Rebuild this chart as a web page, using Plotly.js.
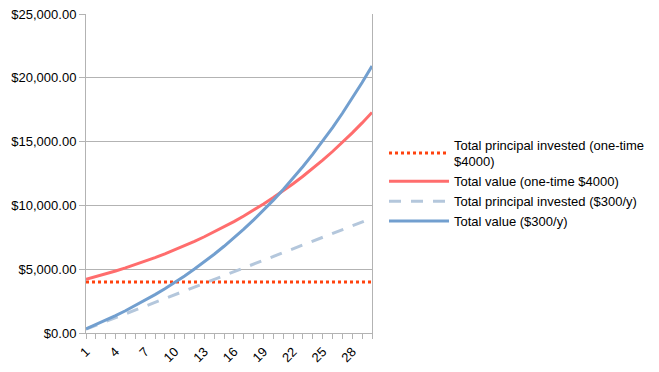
<!DOCTYPE html>
<html><head><meta charset="utf-8">
<script src="https://cdn.plot.ly/plotly-3.0.1.min.js"></script>
<style>html,body{margin:0;padding:0;background:#fff}</style>
</head><body><div id="chart" style="width:659px;height:372px"></div>
<script>
var years = [1,2,3,4,5,6,7,8,9,10,11,12,13,14,15,16,17,18,19,20,21,22,23,24,25,26,27,28,29,30];
var principalOneTime = [4000,4000,4000,4000,4000,4000,4000,4000,4000,4000,4000,4000,4000,4000,4000,4000,4000,4000,4000,4000,4000,4000,4000,4000,4000,4000,4000,4000,4000,4000];
var valueOneTime = [4200,4410,4631,4862,5105,5360,5628,5910,6205,6516,6841,7183,7543,7920,8316,8731,9168,9626,10108,10613,11144,11701,12286,12900,13545,14223,14934,15681,16465,17288];
var principalYearly = [300,600,900,1200,1500,1800,2100,2400,2700,3000,3300,3600,3900,4200,4500,4800,5100,5400,5700,6000,6300,6600,6900,7200,7500,7800,8100,8400,8700,9000];
var valueYearly = [315,646,993,1358,1741,2143,2565,3008,3473,3962,4475,5014,5580,6174,6797,7452,8140,8862,9620,10416,11252,12129,13051,14018,15034,16101,17221,18397,19632,20928];
var names = ["Total principal invested (one-time<br>$4000)","Total value (one-time $4000)","Total principal invested ($300/y)","Total value ($300/y)"];

var traces = [
  {x: years, y: principalOneTime, name: names[0], mode: 'lines', line: {color: '#ff420e', width: 3, dash: 'dot'}},
  {x: years, y: valueOneTime, name: names[1], mode: 'lines', line: {color: '#ff6d6d', width: 3}},
  {x: years, y: principalYearly, name: names[2], mode: 'lines', line: {color: '#b4c7dc', width: 3, dash: '12px,10px'}},
  {x: years, y: valueYearly, name: names[3], mode: 'lines', line: {color: '#729fcf', width: 3}}
];
var layout = {
  width: 659, height: 372,
  margin: {l: 86, r: 287, t: 14, b: 39, autoexpand: false},
  paper_bgcolor: '#ffffff', plot_bgcolor: '#ffffff',
  font: {family: 'Liberation Sans, Arial, sans-serif', size: 13, color: '#000'},
  showlegend: true,
  legend: {x: 1.042, xanchor: 'left', y: 0.47, yanchor: 'middle', itemwidth: 60, font: {size: 13, color: '#000'}, tracegroupgap: 0, bgcolor: 'rgba(0,0,0,0)'},
  xaxis: {range: [1, 30], tick0: 1, dtick: 3, tickangle: -45, ticks: 'outside', ticklen: 5, tickcolor: '#b3b3b3',
          minor: {dtick: 1, tick0: 1, ticks: 'outside', ticklen: 5, tickcolor: '#b3b3b3', showgrid: false},
          showgrid: false, zeroline: false, showline: true, linecolor: '#b3b3b3', linewidth: 1, mirror: false,
          tickfont: {size: 13}},
  yaxis: {range: [0, 25000], dtick: 5000, tickformat: '$,.2f', ticks: 'outside', ticklen: 6, tickcolor: '#b3b3b3',
          showgrid: true, gridcolor: '#b3b3b3', gridwidth: 1, zeroline: false, showline: true, linecolor: '#b3b3b3', linewidth: 1, mirror: true,
          tickfont: {size: 13}}
};
Plotly.newPlot('chart', traces, layout, {displayModeBar: false, staticPlot: true});
</script></body></html>
